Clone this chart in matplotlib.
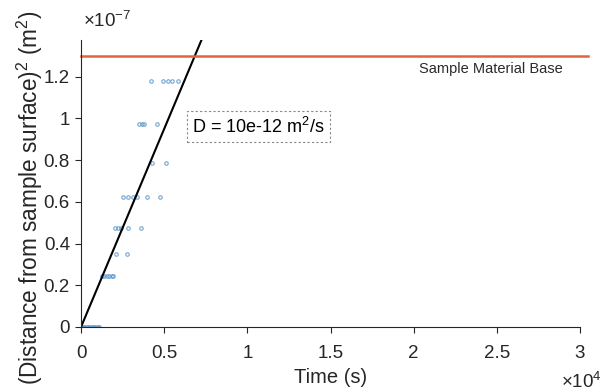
import matplotlib
matplotlib.use("Agg")
import matplotlib.pyplot as plt
import numpy as np

plt.rcParams['font.family'] = ['Liberation Sans', 'DejaVu Sans']
plt.rcParams['mathtext.fontset'] = 'custom'
plt.rcParams['mathtext.rm'] = 'Liberation Sans'
plt.rcParams['mathtext.it'] = 'Liberation Sans:italic'

# Measured penetration: time (s) and squared depth (m^2)
level_5 = [1250, 1400, 1550, 1700, 1850, 1950]
level_6 = [2120, 2770]
level_7 = [2030, 2230, 2420, 2830, 3630]
level_8 = [2540, 2840, 3150, 3350, 3950, 4750]
level_9 = [4250, 5110]
level_10 = [3510, 3650, 3810, 4570]
level_11 = [4210, 4950, 5250, 5490, 5850]
level_0 = [0, 100, 200, 300, 400, 500, 600, 700, 800, 900, 1000, 1100]

step_sq = 9.73e-10  # (31.2 um)^2
times = []
depths_sq = []
for k, ts in [(0, level_0), (5, level_5), (6, level_6), (7, level_7), (8, level_8),
              (9, level_9), (10, level_10), (11, level_11)]:
    times += ts
    depths_sq += [k * k * step_sq] * len(ts)

D_label = "D = 10e-12 m$^2$/s"
fit_slope = 1.9e-11  # m^2/s, slope of the squared-depth fit
base_level = 1.3e-7  # sample material base, m^2
y_top = 1.376e-7
x_max = 3e4

axis_col = "#262626"
fig = plt.figure(figsize=(6.11, 3.91), dpi=100)
ax = fig.add_axes([0.1326, 0.1637, 0.9493 - 0.1326, 0.8977 - 0.1637])

ax.plot(times, depths_sq, 'o', ls='none', ms=2.5, mfc='none', mec='#5a96cc',
        mew=0.8, alpha=0.85)

t_fit = np.array([0, y_top / fit_slope])
ax.plot(t_fit, fit_slope * t_fit, color='black', lw=1.5)

ax.plot([0, 3.05e4], [base_level, base_level], color='#E2643A', lw=1.8,
        clip_on=False)
ax.text(2.465e4, 1.235e-7, "Sample Material Base", fontsize=10.5, ha='center',
        va='center', color='#2a2a2a')

ax.text(6700, 0.96e-7, D_label, fontsize=13, ha='left',
        va='center', color='black',
        bbox=dict(boxstyle='square,pad=0.3', fc='white', ec='#888888',
                  ls=(0, (2, 2)), lw=0.8))

ax.set_xlim(0, x_max)
ax.set_ylim(0, y_top)
ax.set_xticks([0, 0.5e4, 1e4, 1.5e4, 2e4, 2.5e4, 3e4])
ax.set_xticklabels(['0', '0.5', '1', '1.5', '2', '2.5', '3'])
ax.set_yticks([0, 0.2e-7, 0.4e-7, 0.6e-7, 0.8e-7, 1.0e-7, 1.2e-7])
ax.set_yticklabels(['0', '0.2', '0.4', '0.6', '0.8', '1', '1.2'])

for s in ['top', 'right']:
    ax.spines[s].set_visible(False)
for s in ['left', 'bottom']:
    ax.spines[s].set_color(axis_col)
    ax.spines[s].set_linewidth(0.8)
ax.tick_params(direction='out', length=4, width=0.8, colors=axis_col,
               labelsize=13.5)
ax.tick_params(axis='x', pad=9)
ax.tick_params(axis='y', pad=4)

ax.set_xlabel("Time (s)", fontsize=14.5, color=axis_col, labelpad=4)
fig.text(30 / 611, 6 / 391, "(Distance from sample surface)$^2$ (m$^2$)",
         fontsize=16.3, color=axis_col, rotation=90, ha='center', va='bottom')

fig.text(0.136, 0.947, r"$\times$10$^{-7}$", fontsize=13.5, color=axis_col,
         ha='left', va='center')
fig.text(0.985, 0.022, r"$\times$10$^{4}$", fontsize=13.5, color=axis_col,
         ha='right', va='center')

fig.savefig("out.png", dpi=100)
